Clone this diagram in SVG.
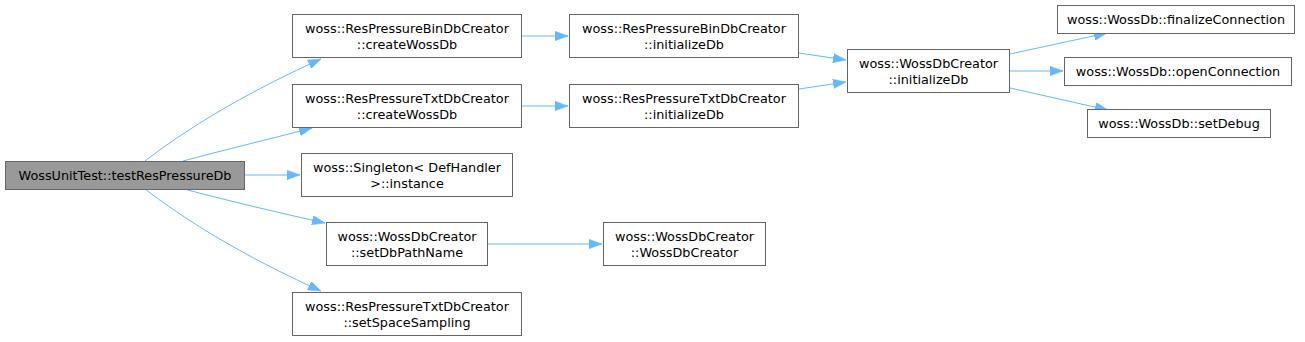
<svg xmlns="http://www.w3.org/2000/svg" width="1305" height="342" viewBox="0 0 1305 342">
<style>
.n rect{fill:#ffffff;stroke:#666666;stroke-width:1}
.n.root rect{fill:#999999}
.n text{font-family:"DejaVu Sans","Liberation Sans",sans-serif;font-size:12.8px;fill:#000000;text-anchor:middle}
.e path{fill:none;stroke:#63b8ff;stroke-width:1;marker-end:url(#ah)}
</style>
<defs>
<marker id="ah" markerUnits="userSpaceOnUse" markerWidth="13.5" markerHeight="9.5" refX="13" refY="4.7" orient="auto" viewBox="0 0 13.5 9.4">
<path d="M0,0 L13,4.7 L0,9.4 z" fill="#63b8ff" stroke="#63b8ff" stroke-width="0.5"/>
</marker>
</defs>
<rect width="1305" height="342" fill="#ffffff"/>
<g id="edges" class="e">
<path d="M145,161 C175,138 230,100 321,59"/>
<path d="M183,161 C220,151 270,139 312,128"/>
<path d="M245,175 L300,175"/>
<path d="M184,189 C225,200 280,213 325,223"/>
<path d="M145,189 C175,212 230,250 321,291"/>
<path d="M522,36 L568,36"/>
<path d="M522,106 L568,106"/>
<path d="M799,53 L846,60"/>
<path d="M799,89 L846,82"/>
<path d="M1010,54 L1107,33"/>
<path d="M1010,71 L1063,71"/>
<path d="M1010,88 L1108,110"/>
<path d="M488,244 L602,244"/>
</g>
<g id="node_root" class="n root"><rect x="5.5" y="161.5" width="239" height="28"/><text x="125" y="179.5">WossUnitTest::testResPressureDb</text></g>
<g id="node_bincreate" class="n"><rect x="292.5" y="14.5" width="229" height="43"/><text x="407" y="32.5">woss::ResPressureBinDbCreator</text><text x="407" y="48.5">::createWossDb</text></g>
<g id="node_txtcreate" class="n"><rect x="292.5" y="84.5" width="229" height="43"/><text x="407" y="102.5">woss::ResPressureTxtDbCreator</text><text x="407" y="118.5">::createWossDb</text></g>
<g id="node_singleton" class="n"><rect x="301.5" y="153.5" width="211" height="43"/><text x="407" y="171.5">woss::Singleton&lt; DefHandler</text><text x="407" y="187.5">&gt;::instance</text></g>
<g id="node_setdbpath" class="n"><rect x="326.5" y="222.5" width="161" height="43"/><text x="407" y="240.5">woss::WossDbCreator</text><text x="407" y="256.5">::setDbPathName</text></g>
<g id="node_setspace" class="n"><rect x="292.5" y="292.5" width="229" height="43"/><text x="407" y="310.5">woss::ResPressureTxtDbCreator</text><text x="407" y="326.5">::setSpaceSampling</text></g>
<g id="node_bininit" class="n"><rect x="569.5" y="14.5" width="229" height="43"/><text x="684" y="32.5">woss::ResPressureBinDbCreator</text><text x="684" y="48.5">::initializeDb</text></g>
<g id="node_txtinit" class="n"><rect x="569.5" y="84.5" width="229" height="43"/><text x="684" y="102.5">woss::ResPressureTxtDbCreator</text><text x="684" y="118.5">::initializeDb</text></g>
<g id="node_ctor" class="n"><rect x="603.5" y="222.5" width="162" height="43"/><text x="684.5" y="240.5">woss::WossDbCreator</text><text x="684.5" y="256.5">::WossDbCreator</text></g>
<g id="node_wdcinit" class="n"><rect x="847.5" y="49.5" width="162" height="43"/><text x="928.5" y="67.5">woss::WossDbCreator</text><text x="928.5" y="83.5">::initializeDb</text></g>
<g id="node_finalize" class="n"><rect x="1057.5" y="5.5" width="237" height="28"/><text x="1176" y="23.5">woss::WossDb::finalizeConnection</text></g>
<g id="node_open" class="n"><rect x="1064.5" y="57.5" width="227" height="28"/><text x="1178" y="75.5">woss::WossDb::openConnection</text></g>
<g id="node_debug" class="n"><rect x="1087.5" y="109.5" width="183" height="28"/><text x="1179" y="127.5">woss::WossDb::setDebug</text></g>
</svg>
